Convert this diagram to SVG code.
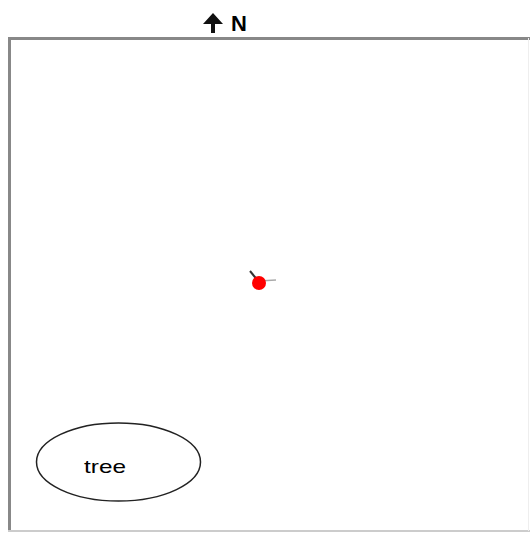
<svg xmlns="http://www.w3.org/2000/svg" width="530" height="533" viewBox="0 0 530 533">
<style>
.lbl{font-family:"Liberation Sans",Arial,sans-serif;fill:#000}
</style>
<rect width="530" height="533" fill="#fff"/>
<g id="frame">
<line x1="8" y1="38.5" x2="530" y2="38.5" stroke="#888" stroke-width="3"/>
<line x1="9.5" y1="37" x2="9.5" y2="531" stroke="#888" stroke-width="3"/>
<line x1="8" y1="531" x2="530" y2="531" stroke="#ccc" stroke-width="2"/>
<line x1="528.5" y1="38" x2="528.5" y2="531" stroke="#eee" stroke-width="1"/>
</g>
<g id="north">
<polygon points="213,13 203,24 211,24 211,33 215,33 215,24 223,24" fill="#111"/>
<text class="lbl" x="231" y="31" font-size="22" font-weight="bold">N</text>
</g>
<g id="marker">
<line x1="259" y1="281" x2="276" y2="280" stroke="#aaa" stroke-width="1.5"/>
<line x1="250" y1="271" x2="259" y2="282" stroke="#333" stroke-width="2"/>
<circle cx="259" cy="283" r="7" fill="#f00"/>
</g>
<g id="tree">
<ellipse cx="118.5" cy="462" rx="82" ry="39" fill="none" stroke="#222" stroke-width="1.5"/>
<text class="lbl" x="105" y="473" font-size="19" text-anchor="middle" textLength="42" lengthAdjust="spacingAndGlyphs">tree</text>
</g>
</svg>
